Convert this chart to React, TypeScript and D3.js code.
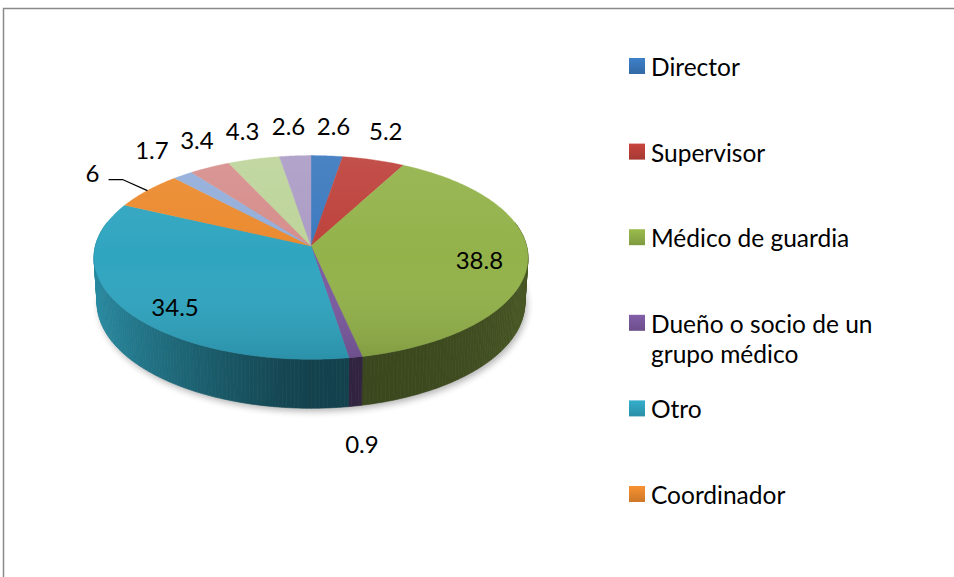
import React from "react";
import * as d3 from "d3";

// ---- data ----
const categories = [
  "Director",
  "Supervisor",
  "Médico de guardia",
  "Dueño o socio de un grupo médico",
  "Otro",
  "Coordinador",
  "",
  "",
  "",
  "",
];
const values = [2.6, 5.2, 38.8, 0.9, 34.5, 6, 1.7, 3.4, 4.3, 2.6];
const legendCount = 6;
const colors = [
  "#3B79BE",
  "#BE413B",
  "#93B24A",
  "#7B5A9F",
  "#30A5C0",
  "#EB8A2E",
  "#93AEDA",
  "#D68E8C",
  "#BDD49A",
  "#AC9CC6",
];
// label placement mode per slice (like Excel's label position)
const labelModes = ["out", "out", "in", "out", "in", "leader", "out", "out", "out", "out"];

const W = 954;
const H = 577;
const FONT = "Lato, 'Open Sans', sans-serif";

export default function App() {
  const cx = 311;
  const cy = 246;
  const k = 215.6;
  const phi = (27.8 * Math.PI) / 180;
  const D = 7.87;
  const h = 0.24;
  const cph = Math.cos(phi);
  const sph = Math.sin(phi);

  const project = (x: number, y: number, z: number): [number, number] => {
    const up = y * cph - z * sph;
    const depth = z * cph + y * sph;
    const s = D / (D - depth);
    return [cx + k * x * s, cy - k * up * s];
  };
  const pt = (a: number, r: number, y: number) => project(r * Math.sin(a), y, -r * Math.cos(a));

  const arcs = d3
    .pie<number>()
    .sort(null)
    .startAngle(0)
    .endAngle(2 * Math.PI)(values);

  const line = d3.line();

  // top faces
  const topPaths = arcs.map((a) => {
    const n = Math.max(2, Math.ceil((a.endAngle - a.startAngle) / (Math.PI / 360)));
    const pts: [number, number][] = [project(0, 0, 0)];
    for (let i = 0; i <= n; i++) {
      const ang = a.startAngle + ((a.endAngle - a.startAngle) * i) / n;
      pts.push(pt(ang, 1, 0));
    }
    return line(pts) + "Z";
  });

  // wall strips
  type Strip = { d: string; fill: string; z: number };
  const strips: Strip[] = [];
  arcs.forEach((a, idx) => {
    const step = Math.PI / 180;
    const n = Math.max(1, Math.ceil((a.endAngle - a.startAngle) / step));
    for (let i = 0; i < n; i++) {
      const a0 = a.startAngle + ((a.endAngle - a.startAngle) * i) / n;
      const a1 = a.startAngle + ((a.endAngle - a.startAngle) * (i + 1)) / n;
      const am = (a0 + a1) / 2;
      const zm = -Math.cos(am);
      if (zm < -0.25) continue;
      const sn = Math.sin(am);
      const f =
        0.4 +
        0.45 * Math.pow(Math.max(0, -sn), 1.2) +
        0.1 * Math.pow(Math.max(0, sn), 3);
      const c = d3.rgb(colors[idx]);
      const fill = d3.rgb(c.r * f, c.g * f, c.b * f).formatHex();
      const p = [pt(a0, 1, 0), pt(a1, 1, 0), pt(a1, 1, -h), pt(a0, 1, -h)];
      strips.push({ d: line(p as [number, number][]) + "Z", fill, z: zm });
    }
  });
  strips.sort((p, q) => p.z - q.z);

  // outlines
  const outline = (y: number) => {
    const pts: [number, number][] = [];
    for (let i = 0; i <= 360; i++) pts.push(pt((i * Math.PI) / 180, 1, y));
    return line(pts) + "Z";
  };
  const topOutline = outline(0);
  const bottomOutline = outline(-h);
  const topY = pt(0, 1, 0)[1];
  const nearY = pt(Math.PI, 1, 0)[1];

  // labels
  const labels = arcs.map((a, i) => {
    const mid = (a.startAngle + a.endAngle) / 2;
    const s = Math.sin(mid);
    const c = -Math.cos(mid);
    const mode = labelModes[i];
    const text = String(values[i]);
    const w = text.length * 11;
    let x: number, y: number;
    const edge = pt(mid, 1, c > 0 ? -h : 0);
    if (mode === "in") {
      x = cx + 170 * s;
      y = cy + 100 * c;
    } else if (mode === "leader") {
      x = cx + 270 * s;
      y = cy + 125 * c;
    } else if (c <= 0) {
      x = edge[0] + 38 * s;
      y = edge[1] - (12 + 18 * Math.abs(c));
    } else {
      x = edge[0] + 38 * s;
      y = edge[1] + (14 + 24 * Math.abs(c));
    }
    return { text, x, y, w, mode, edge: pt(mid, 1, 0) };
  });

  // simple overlap relaxation for outside labels
  const outs = labels.filter((l) => l.mode === "out");
  for (let iter = 0; iter < 30; iter++) {
    outs.sort((p, q) => p.x - q.x);
    for (let i = 0; i < outs.length - 1; i++) {
      const p = outs[i];
      const q = outs[i + 1];
      if (Math.abs(p.y - q.y) > 24) continue;
      const minD = (p.w + q.w) / 2 + 12;
      const d = q.x - p.x;
      if (d < minD) {
        const push = (minD - d) / 2;
        p.x -= push;
        q.x += push;
      }
    }
  }

  // legend wrapping
  const wrap = (t: string, maxW: number) => {
    const words = t.split(" ");
    const lines: string[] = [];
    let cur = "";
    words.forEach((w) => {
      const cand = cur ? cur + " " + w : w;
      if (cand.length * 11.6 > maxW && cur) {
        lines.push(cur);
        cur = w;
      } else cur = cand;
    });
    if (cur) lines.push(cur);
    return lines;
  };
  const legendY = d3.scaleLinear().domain([0, 5]).range([76, 504]);

  return (
    <svg
      width={W}
      height={H}
      viewBox={`0 0 ${W} ${H}`}
      style={{ position: "absolute", left: 0, top: 0, background: "#fff" }}
    >
      <defs>
        <filter id="blur" x="-20%" y="-20%" width="140%" height="140%">
          <feGaussianBlur stdDeviation="3.5" />
        </filter>
        <linearGradient id="topShade" gradientUnits="userSpaceOnUse" x1="0" y1={topY} x2="0" y2={nearY}>
          <stop offset="0" stopColor="#fff" stopOpacity="0.08" />
          <stop offset="0.5" stopColor="#fff" stopOpacity="0" />
          <stop offset="1" stopColor="#000" stopOpacity="0.12" />
        </linearGradient>
        {colors.map((c, i) => (
          <linearGradient key={i} id={`lg${i}`} x1="0" y1="0" x2="0" y2="1">
            <stop offset="0" stopColor={d3.rgb(c).brighter(0.15).formatHex()} />
            <stop offset="1" stopColor={d3.rgb(c).darker(0.4).formatHex()} />
          </linearGradient>
        ))}
      </defs>
      <rect x={3.5} y={8.5} width={1000} height={700} fill="none" stroke="#8a8a8a" strokeWidth={1.5} />

      {/* shadow */}
      <path d={bottomOutline} transform="translate(2,3)" fill="#000" opacity={0.3} filter="url(#blur)" />

      {/* walls */}
      {strips.map((s, i) => (
        <path key={i} d={s.d} fill={s.fill} stroke={s.fill} strokeWidth={0.6} />
      ))}
      {/* top faces */}
      {topPaths.map((d, i) => (
        <path key={i} d={d} fill={colors[i]} stroke={colors[i]} strokeWidth={0.4} />
      ))}
      <path d={topOutline} fill="url(#topShade)" />

      {/* data labels */}
      {labels.map((l, i) => (
        <g key={i}>
          {l.mode === "leader" && (
            <polyline
              points={`${l.x + 16},${l.y + 7} ${l.x + 30},${l.y + 7} ${l.edge[0]},${l.edge[1]}`}
              fill="none"
              stroke="#000"
              strokeWidth={1.3}
            />
          )}
          <text
            x={l.x}
            y={l.y}
            textAnchor="middle"
            dominantBaseline="central"
            fontFamily={FONT}
            fontSize={24}
            fill="#000"
          >
            {l.text}
          </text>
        </g>
      ))}

      {/* legend */}
      {categories.slice(0, legendCount).map((c, i) => {
        const by = legendY(i);
        const lines = wrap(c, 235);
        return (
          <g key={i}>
            <rect x={629} y={by - 18} width={16} height={16} fill={`url(#lg${i})`} />
            <text x={651} y={by} fontFamily={FONT} fontSize={24.5} fill="#000">
              {lines.map((ln, j) => (
                <tspan key={j} x={651} dy={j === 0 ? 0 : 30}>
                  {ln}
                </tspan>
              ))}
            </text>
          </g>
        );
      })}
    </svg>
  );
}
